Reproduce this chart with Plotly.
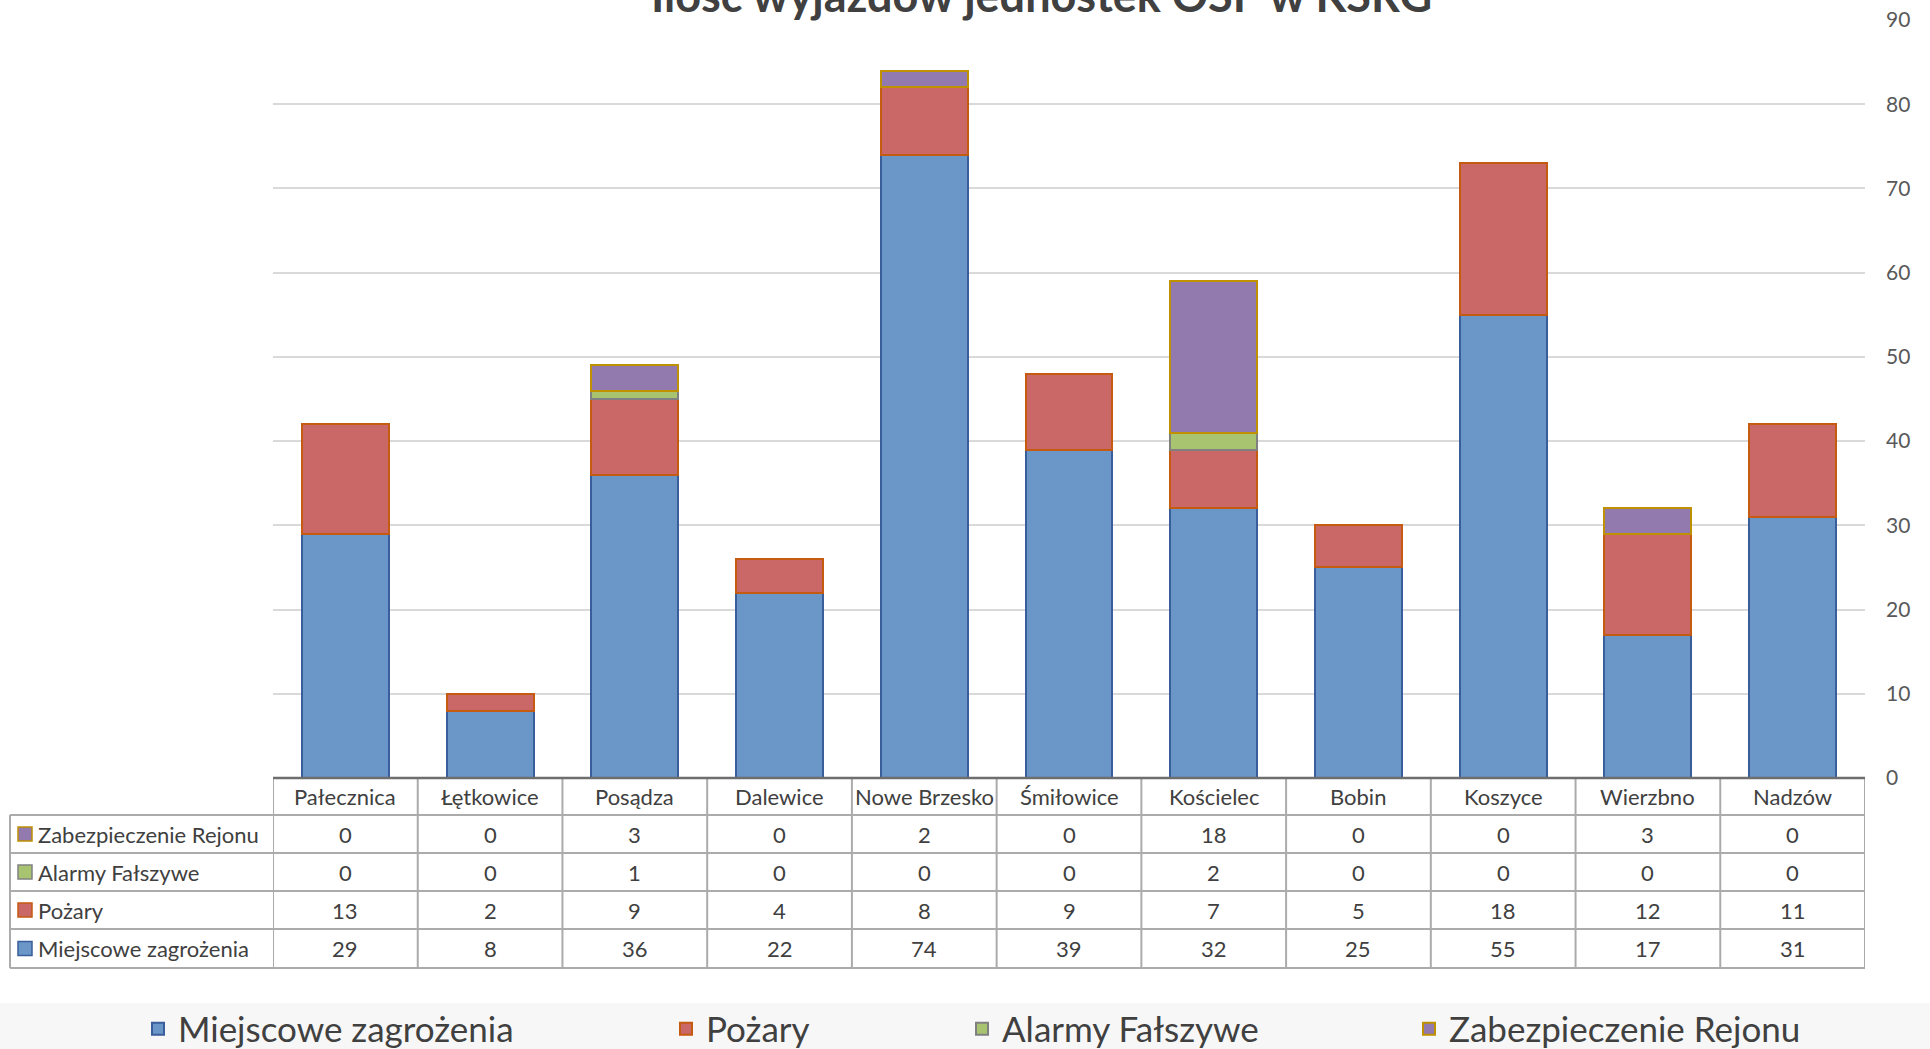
import plotly.graph_objects as go

# ---------------- data ----------------
categories = ["Pałecznica", "Łętkowice", "Posądza", "Dalewice", "Nowe Brzesko",
              "Śmiłowice", "Kościelec", "Bobin", "Koszyce", "Wierzbno", "Nadzów"]
miejscowe = [29, 8, 36, 22, 74, 39, 32, 25, 55, 17, 31]
pozary = [13, 2, 9, 4, 8, 9, 7, 5, 18, 12, 11]
alarmy = [0, 0, 1, 0, 0, 0, 2, 0, 0, 0, 0]
zabezpieczenie = [0, 0, 3, 0, 2, 0, 18, 0, 0, 3, 0]
series_names = ["Miejscowe zagrożenia", "Pożary", "Alarmy Fałszywe", "Zabezpieczenie Rejonu"]
title_text = "Ilość wyjazdów jednostek OSP w KSRG"
y_ticks = [0, 10, 20, 30, 40, 50, 60, 70, 80, 90]

# ---------------- styling ----------------
FONT = "Lato"
fills = ["#6A96C8", "#C96866", "#A8C470", "#9279AE"]
edges = ["#3A5E9C", "#C55A11", "#808080", "#BF9000"]
series_values = [miejscowe, pozary, alarmy, zabezpieczenie]

W, H = 1930, 1049
SL, SR, ST, SB = 273, 1865, 20, 778  # plot area left/right/top/bottom (pixels)
L, T = SL, ST
PW = SR - SL
PH = SB - ST
R = W - L - PW
B = H - T - PH


def px(X):
    return (X - SL) / PW


def py(Y):
    return (SB - Y) / PH


fig = go.Figure()
legend_ids = ["legend", "legend2", "legend3", "legend4"]
for name, vals, fc, ec, lg in zip(series_names, series_values, fills, edges, legend_ids):
    fig.add_trace(go.Bar(
        x=categories,
        y=[v if v else None for v in vals],
        name=name,
        marker=dict(color=fc, line=dict(color=ec, width=2)),
        legend=lg,
    ))

shapes = []
annotations = []

# table geometry (pixels)
header_top, header_bot = SB, 815
row_bounds = [815, 853, 891, 929, 968]
table_left = 10
grid_col = "#ABABAB"

for yb in row_bounds:
    shapes.append(dict(type="line", xref="paper", yref="paper",
                       x0=px(table_left), x1=1, y0=py(yb), y1=py(yb),
                       line=dict(color=grid_col, width=2)))
for i in range(len(categories) + 1):
    shapes.append(dict(type="line", xref="x", yref="paper",
                       x0=i - 0.5, x1=i - 0.5, y0=py(header_top), y1=py(row_bounds[-1]),
                       line=dict(color=grid_col, width=2)))
shapes.append(dict(type="line", xref="paper", yref="paper",
                   x0=px(table_left), x1=px(table_left), y0=py(row_bounds[0]), y1=py(row_bounds[-1]),
                   line=dict(color=grid_col, width=2)))
# axis line
shapes.append(dict(type="line", xref="paper", yref="paper",
                   x0=0, x1=1, y0=0, y1=0, line=dict(color="#6E6E6E", width=2.5)))

# legend band
shapes.append(dict(type="rect", xref="paper", yref="paper", layer="below",
                   x0=px(0), x1=px(W + 5), y0=py(1003), y1=py(H + 5),
                   fillcolor="#F7F7F7", line=dict(width=0)))

txt_col = "#404040"
tfont = dict(family=FONT, size=22, color=txt_col)

hy = py((header_top + header_bot) / 2)
for c in categories:
    annotations.append(dict(x=c, y=hy, xref="x", yref="paper", text=c, showarrow=False,
                            font=tfont, xanchor="center", yanchor="middle"))

row_order = [3, 2, 1, 0]
for r, si in enumerate(row_order):
    yc = py((row_bounds[r] + row_bounds[r + 1]) / 2)
    shapes.append(dict(type="rect", xref="paper", yref="paper",
                       x0=px(18), x1=px(32), y0=yc - 7 / PH, y1=yc + 7 / PH,
                       fillcolor=fills[si], line=dict(color=edges[si], width=1.5)))
    annotations.append(dict(x=px(36), y=yc, xref="paper", yref="paper",
                            text=series_names[si], showarrow=False, font=tfont,
                            xanchor="left", yanchor="middle"))
    for c, v in zip(categories, series_values[si]):
        annotations.append(dict(x=c, y=yc, xref="x", yref="paper", text=str(v),
                                showarrow=False, font=tfont, xanchor="center", yanchor="middle"))

# title (partly cut off at the top as in the reference)
annotations.append(dict(x=px(1041), y=py(-5), xref="paper", yref="paper", text=title_text,
                        showarrow=False, xanchor="center", yanchor="middle",
                        font=dict(family=FONT, size=45, color="#404040", weight="bold")))

text_starts = [178, 706, 1002, 1449]
leg_y = py(1029)
legend_layouts = {}
for lg, xs in zip(legend_ids, text_starts):
    legend_layouts[lg] = dict(
        x=px(xs - 40), xanchor="left", y=leg_y, yanchor="middle",
        orientation="h", bgcolor="rgba(0,0,0,0)", borderwidth=0,
        font=dict(family=FONT, size=35, color="#404040"),
        itemclick=False, itemdoubleclick=False,
    )

fig.update_layout(
    width=W, height=H,
    margin=dict(l=L, r=R, t=T, b=B, autoexpand=False),
    barmode="stack", bargap=0.4,
    paper_bgcolor="white", plot_bgcolor="white",
    font=dict(family=FONT, color=txt_col),
    showlegend=True,
    hovermode=False,
    xaxis=dict(range=[-0.5, len(categories) - 0.5], showticklabels=False, showgrid=False,
               zeroline=False, showline=False, ticks="", fixedrange=True),
    yaxis=dict(side="right", range=[0, 90], tickvals=y_ticks, showgrid=True,
               gridcolor="#D9D9D9", gridwidth=1.5, zeroline=False, showline=False,
               ticks="", ticklabelstandoff=20,
               tickfont=dict(family=FONT, size=21, color="#595959"), fixedrange=True),
    shapes=shapes,
    annotations=annotations,
    **legend_layouts,
)

fig.write_html("out.html", config={"displayModeBar": False},
               post_script="document.body.style.margin='0px';document.body.style.overflow='hidden';")
